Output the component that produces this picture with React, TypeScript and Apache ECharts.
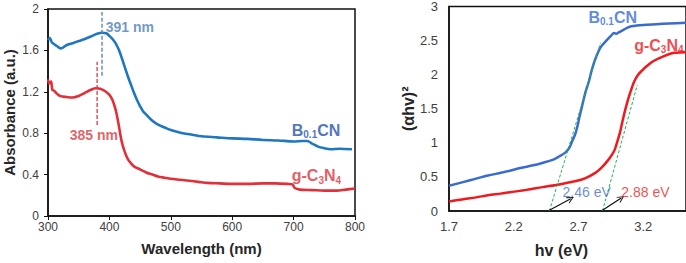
import React, { useEffect, useRef } from "react";
import * as echarts from "echarts";

// ---------- Left panel: absorbance spectra ----------
const wlBlue = [300, 303, 306, 310, 315, 320, 325, 330, 340, 350, 360, 370, 380, 388, 395, 400, 405, 410, 415, 420, 425, 430, 435, 440, 445, 450, 455, 460, 470, 480, 490, 500, 510, 520, 535, 550, 575, 600, 625, 650, 675, 700, 715, 722, 730, 740, 750, 760, 775, 795];
const absBlue = [1.70, 1.72, 1.68, 1.66, 1.64, 1.62, 1.63, 1.65, 1.67, 1.69, 1.71, 1.735, 1.76, 1.77, 1.765, 1.74, 1.71, 1.67, 1.61, 1.53, 1.44, 1.35, 1.27, 1.19, 1.12, 1.06, 1.01, 0.98, 0.92, 0.88, 0.855, 0.83, 0.815, 0.80, 0.785, 0.77, 0.76, 0.75, 0.745, 0.735, 0.73, 0.72, 0.725, 0.725, 0.70, 0.67, 0.655, 0.645, 0.65, 0.645];

const wlRed = [300, 302, 305, 307, 310, 315, 320, 330, 340, 350, 360, 370, 378, 385, 392, 400, 405, 410, 413, 416, 420, 425, 430, 435, 440, 450, 460, 470, 480, 490, 500, 515, 530, 545, 560, 580, 600, 625, 650, 670, 690, 698, 702, 710, 730, 750, 770, 785, 800];
const absRed = [1.32, 1.28, 1.30, 1.22, 1.21, 1.18, 1.16, 1.15, 1.145, 1.16, 1.19, 1.22, 1.235, 1.23, 1.21, 1.17, 1.12, 1.03, 0.95, 0.85, 0.72, 0.62, 0.55, 0.51, 0.48, 0.45, 0.42, 0.40, 0.38, 0.37, 0.36, 0.35, 0.34, 0.33, 0.32, 0.315, 0.31, 0.31, 0.315, 0.315, 0.31, 0.305, 0.27, 0.255, 0.25, 0.245, 0.245, 0.255, 0.265];

const peakBlueX = [388, 388];
const peakBlueY = [1.355, 1.97];
const peakRedX = [380, 380];
const peakRedY = [0.88, 1.49];

const leftXTicks = { min: 300, max: 800, interval: 100 };
const leftYTicks = { min: 0, max: 2, interval: 0.4 };

// ---------- Right panel: Tauc plot ----------
const hvBlue = [1.70, 1.80, 1.91, 2.00, 2.10, 2.17, 2.25, 2.35, 2.42, 2.50, 2.55, 2.60, 2.63, 2.655, 2.675, 2.69, 2.71, 2.73, 2.755, 2.78, 2.80, 2.83, 2.87, 2.92, 2.95, 2.975, 2.99, 3.01, 3.05, 3.09, 3.15, 3.20, 3.30, 3.40, 3.53];
const taucBlue = [0.37, 0.42, 0.475, 0.52, 0.56, 0.59, 0.63, 0.67, 0.705, 0.75, 0.80, 0.86, 0.93, 1.04, 1.13, 1.23, 1.40, 1.56, 1.75, 1.90, 2.05, 2.23, 2.40, 2.51, 2.57, 2.61, 2.60, 2.62, 2.66, 2.70, 2.72, 2.73, 2.74, 2.75, 2.76];

const hvRed = [1.70, 1.80, 1.91, 2.00, 2.10, 2.17, 2.30, 2.42, 2.55, 2.68, 2.75, 2.83, 2.88, 2.93, 2.96, 2.98, 3.00, 3.02, 3.04, 3.06, 3.08, 3.10, 3.13, 3.16, 3.19, 3.23, 3.27, 3.32, 3.37, 3.44, 3.53];
const taucRed = [0.14, 0.17, 0.20, 0.23, 0.255, 0.275, 0.31, 0.35, 0.39, 0.44, 0.48, 0.56, 0.64, 0.75, 0.83, 0.90, 1.02, 1.15, 1.32, 1.48, 1.62, 1.74, 1.90, 2.00, 2.06, 2.13, 2.19, 2.24, 2.28, 2.32, 2.33];

const tangentBlueX = [2.475, 2.87];
const tangentBlueY = [0.0, 2.47];
const tangentRedX = [2.885, 3.154];
const tangentRedY = [0.0, 1.85];

const arrowBlue = [[2.475, 0.01], [2.64, 0.18]];
const arrowRed = [[2.885, 0.01], [3.03, 0.19]];

const rightXLabels = [1.7, 2.2, 2.7, 3.2];
const rightXRange = { min: 1.7, max: 3.53 };
const rightYTicks = { min: 0, max: 3, interval: 0.5 };

const FONT = "'Liberation Sans', Arial, sans-serif";

const zip = (xs: number[], ys: number[]) => xs.map((x, i) => [x, ys[i]]);

function textLabel(value: number[], formatter: string, color: string, rich: any, position: string) {
  return {
    value,
    label: {
      show: true,
      position,
      distance: 0,
      formatter,
      color,
      fontFamily: FONT,
      rich,
    },
  };
}

function richFor(color: string, size: number, weight: string) {
  return {
    b: { fontSize: size, fontWeight: weight, color, fontFamily: FONT },
    s: { fontSize: 10, fontWeight: weight, color, fontFamily: FONT, padding: [9, 0, 0, 0] },
  };
}

export default function App() {
  const ref = useRef<HTMLDivElement>(null);
  useEffect(() => {
    if (!ref.current) return;
    const chart = echarts.init(ref.current, undefined, { renderer: "svg" });

    const leftBlue = "#1f77c2";
    const leftRed = "#e0313a";
    const rightBlue = "#3a6bd1";
    const rightRed = "#f0191e";
    const green = "#22b14c";

    const option: any = {
      animation: false,
      backgroundColor: "#fff",
      textStyle: { fontFamily: FONT },
      grid: [
        { left: 48, top: 9, width: 307, height: 207, show: true, borderColor: "#111", borderWidth: 1.5, backgroundColor: "transparent" },
        { left: 449, top: 6, width: 238, height: 210, show: true, borderColor: "#111", borderWidth: 1.5, backgroundColor: "transparent" },
      ],
      xAxis: [
        {
          type: "value", gridIndex: 0, ...leftXTicks,
          axisLine: { show: true, onZero: false, lineStyle: { color: "#111", width: 1.5 } },
          axisTick: { show: true, length: 4, lineStyle: { color: "#111" } },
          splitLine: { show: false },
          axisLabel: { color: "#404040", fontSize: 12, margin: 5, fontFamily: FONT },
          name: "Wavelength (nm)", nameLocation: "middle", nameGap: 25,
          nameTextStyle: { fontSize: 15, fontWeight: "bold", color: "#262626", fontFamily: FONT, verticalAlign: "top" },
        },
        {
          type: "value", gridIndex: 1, ...rightXRange,
          axisLine: { show: true, onZero: false, lineStyle: { color: "#111", width: 1.5 } },
          axisTick: { show: false },
          splitLine: { show: false },
          axisLabel: { color: "#404040", fontSize: 13, margin: 9, fontFamily: FONT, customValues: rightXLabels, formatter: (v: number) => v.toFixed(1) },
          name: "hv (eV)", nameLocation: "middle", nameGap: 31,
          nameTextStyle: { fontSize: 16, fontWeight: "bold", color: "#262626", fontFamily: FONT, padding: [0, 12, 0, 0], verticalAlign: "top" },
        },
      ],
      yAxis: [
        {
          type: "value", gridIndex: 0, ...leftYTicks,
          axisLine: { show: true, onZero: false, lineStyle: { color: "#111", width: 1.5 } },
          axisTick: { show: true, length: 4, lineStyle: { color: "#111" } },
          splitLine: { show: false },
          axisLabel: { color: "#404040", fontSize: 12, margin: 9, fontFamily: FONT, formatter: (v: number) => String(+v.toFixed(1)) },
          name: "Absorbance (a.u.)", nameLocation: "middle", nameGap: 31,
          nameTextStyle: { fontSize: 15, fontWeight: "bold", color: "#262626", fontFamily: FONT },
        },
        {
          type: "value", gridIndex: 1, ...rightYTicks,
          axisLine: { show: true, onZero: false, lineStyle: { color: "#111", width: 1.5 } },
          axisTick: { show: false },
          splitLine: { show: false },
          axisLabel: { color: "#404040", fontSize: 13, margin: 11, fontFamily: FONT, formatter: (v: number) => String(+v.toFixed(1)) },
          name: "(αhv)²", nameLocation: "middle", nameGap: 33,
          nameTextStyle: { fontSize: 16, fontWeight: "bold", color: "#262626", fontFamily: FONT },
        },
      ],
      series: [
        // left curves
        { type: "line", xAxisIndex: 0, yAxisIndex: 0, data: zip(wlBlue, absBlue), showSymbol: false, smooth: 0.3, lineStyle: { color: leftBlue, width: 2.6 }, z: 3 },
        { type: "line", xAxisIndex: 0, yAxisIndex: 0, data: zip(wlRed, absRed), showSymbol: false, smooth: 0.3, lineStyle: { color: leftRed, width: 2.6 }, z: 3 },
        { type: "line", xAxisIndex: 0, yAxisIndex: 0, data: zip(peakBlueX, peakBlueY), showSymbol: false, lineStyle: { color: "#4a7eb6", width: 1.3, type: [4, 2] } },
        { type: "line", xAxisIndex: 0, yAxisIndex: 0, data: zip(peakRedX, peakRedY), showSymbol: false, lineStyle: { color: "#d93a3f", width: 1.3, type: [4, 2] } },
        {
          type: "scatter", xAxisIndex: 0, yAxisIndex: 0, symbolSize: 0, z: 5,
          data: [
            textLabel([697, 0.83], "{b|B}{s|0.1}{b|CN}", "#2350b0", richFor("#2350b0", 16, "bold"), "right"),
            textLabel([697, 0.39], "{b|g-C}{s|3}{b|N}{s|4}", leftRed, richFor(leftRed, 16, "bold"), "right"),
            textLabel([394, 1.83], "{b|391 nm}", "#4a7eb6", richFor("#4a7eb6", 14, "bold"), "right"),
            textLabel([414, 0.78], "{b|385 nm}", "#d93a3f", richFor("#d93a3f", 14, "bold"), "left"),
          ],
        },
        // right curves
        { type: "line", xAxisIndex: 1, yAxisIndex: 1, data: zip(hvBlue, taucBlue), showSymbol: false, smooth: 0.3, lineStyle: { color: rightBlue, width: 2.5 }, z: 3 },
        { type: "line", xAxisIndex: 1, yAxisIndex: 1, data: zip(hvRed, taucRed), showSymbol: false, smooth: 0.3, lineStyle: { color: rightRed, width: 2.5 }, z: 3 },
        { type: "line", xAxisIndex: 1, yAxisIndex: 1, data: zip(tangentBlueX, tangentBlueY), showSymbol: false, lineStyle: { color: green, width: 1, type: [3, 2] }, z: 4 },
        { type: "line", xAxisIndex: 1, yAxisIndex: 1, data: zip(tangentRedX, tangentRedY), showSymbol: false, lineStyle: { color: green, width: 1, type: [3, 2] }, z: 4 },
        {
          type: "lines", coordinateSystem: "cartesian2d", xAxisIndex: 1, yAxisIndex: 1, z: 5,
          symbol: ["none", "path://M0,10 L5,0 L10,10 L8.6,10 L5,2.8 L1.4,10 Z"], symbolSize: [9, 7],
          lineStyle: { color: "#111", width: 1.2, opacity: 1 },
          data: [{ coords: arrowBlue }, { coords: arrowRed }],
        },
        {
          type: "scatter", xAxisIndex: 1, yAxisIndex: 1, symbolSize: 0, z: 5,
          data: [
            textLabel([2.777, 2.84], "{b|B}{s|0.1}{b|CN}", rightBlue, richFor(rightBlue, 16, "bold"), "right"),
            textLabel([3.13, 2.43], "{b|g-C}{s|3}{b|N}{s|4}", rightRed, richFor(rightRed, 16, "bold"), "right"),
            textLabel([2.577, 0.286], "{b|2.46 eV}", "#4472c4", richFor("#4472c4", 14, "normal"), "right"),
            textLabel([3.03, 0.286], "{b|2.88 eV}", rightRed, richFor(rightRed, 14, "normal"), "right"),
          ],
        },
      ],
    };
    chart.setOption(option);
    return () => chart.dispose();
  }, []);
  return <div ref={ref} style={{ position: "absolute", left: 0, top: 0, width: 686, height: 263 }} />;
}
